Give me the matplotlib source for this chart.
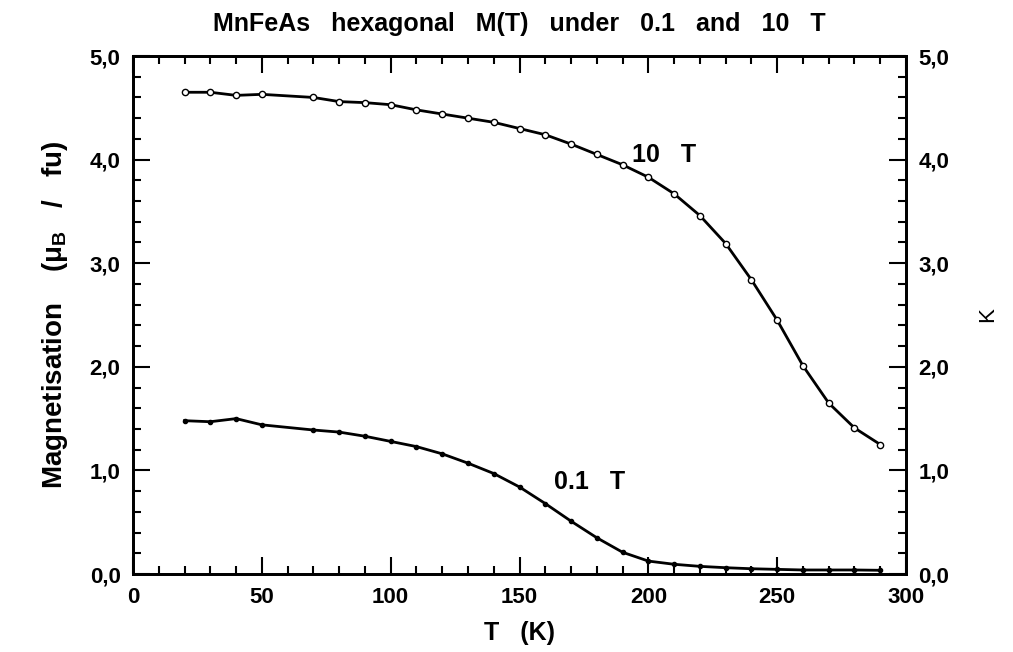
import numpy as np
import matplotlib.pyplot as plt
from matplotlib.ticker import MultipleLocator, FuncFormatter

plt.rcParams["font.family"] = ["Liberation Sans", "DejaVu Sans"]
plt.rcParams["font.weight"] = "bold"
plt.rcParams["axes.labelweight"] = "bold"
plt.rcParams["axes.titleweight"] = "bold"
plt.rcParams["mathtext.fontset"] = "custom"
plt.rcParams["mathtext.rm"] = "Liberation Sans:bold"
plt.rcParams["mathtext.it"] = "Liberation Sans:bold"
plt.rcParams["mathtext.bf"] = "Liberation Sans:bold"

# 10 T curve
T_10 = [20, 30, 40, 50, 70, 80, 90, 100, 110, 120, 130, 140, 150, 160, 170,
        180, 190, 200, 210, 220, 230, 240, 250, 260, 270, 280, 290]
M_10 = [4.65, 4.65, 4.62, 4.63, 4.60, 4.56, 4.55, 4.53, 4.48, 4.44, 4.40, 4.36,
        4.30, 4.24, 4.15, 4.05, 3.95, 3.83, 3.67, 3.46, 3.19, 2.84, 2.45, 2.01,
        1.65, 1.41, 1.25]

# 0.1 T curve
T_01 = [20, 30, 40, 50, 70, 80, 90, 100, 110, 120, 130, 140, 150, 160, 170,
        180, 190, 200, 210, 220, 230, 240, 250, 260, 270, 280, 290]
M_01 = [1.48, 1.47, 1.50, 1.44, 1.39, 1.37, 1.33, 1.28, 1.23, 1.16, 1.07, 0.97,
        0.84, 0.68, 0.51, 0.35, 0.21, 0.125, 0.094, 0.074, 0.061, 0.051, 0.045,
        0.039, 0.039, 0.039, 0.036]


def comma(v, p):
    return f"{v:.1f}".replace(".", ",")


fig = plt.figure(figsize=(10.13, 6.52), dpi=100)
ax = fig.add_axes([0.1313, 0.1196, 0.7631, 0.7945])

ax.plot(T_10, M_10, color="black", lw=2, marker="o", ms=4.5,
        mfc="white", mec="black", mew=1)
ax.plot(T_01, M_01, color="black", lw=2, marker="o", ms=3,
        mfc="black", mec="black")

ax.text(206, 4.04, "10   T", fontsize=18, ha="center", va="center")
ax.text(177, 0.89, "0.1   T", fontsize=18, ha="center", va="center")

ax.set_xlim(0, 300)
ax.set_ylim(0, 5)
ax.xaxis.set_major_locator(MultipleLocator(50))
ax.xaxis.set_minor_locator(MultipleLocator(10))
ax.yaxis.set_major_locator(MultipleLocator(1))
ax.yaxis.set_minor_locator(MultipleLocator(0.2))
ax.yaxis.set_major_formatter(FuncFormatter(comma))

ax2 = ax.twinx()
ax2.set_ylim(0, 5)
ax2.yaxis.set_major_locator(MultipleLocator(1))
ax2.yaxis.set_minor_locator(MultipleLocator(0.2))
ax2.yaxis.set_major_formatter(FuncFormatter(comma))
ax2.set_ylabel("K", fontsize=16, fontweight="normal", labelpad=20)

for a in (ax, ax2):
    a.tick_params(which="both", direction="in", top=True, width=1.5,
                  labelsize=16, pad=9)
    a.tick_params(which="major", length=12)
    a.tick_params(which="minor", length=6)
    for s in a.spines.values():
        s.set_linewidth(2)
ax.tick_params(right=False)

ax.set_xlabel("T   (K)", fontsize=18, labelpad=10)
ax.set_ylabel(r"Magnetisation    ($\mu_{\mathrm{B}}$   /   fu)", fontsize=20, labelpad=14)
ax.set_title("MnFeAs   hexagonal   M(T)   under   0.1   and   10   T", fontsize=18, pad=18)

fig.savefig("out.png", dpi=100)
